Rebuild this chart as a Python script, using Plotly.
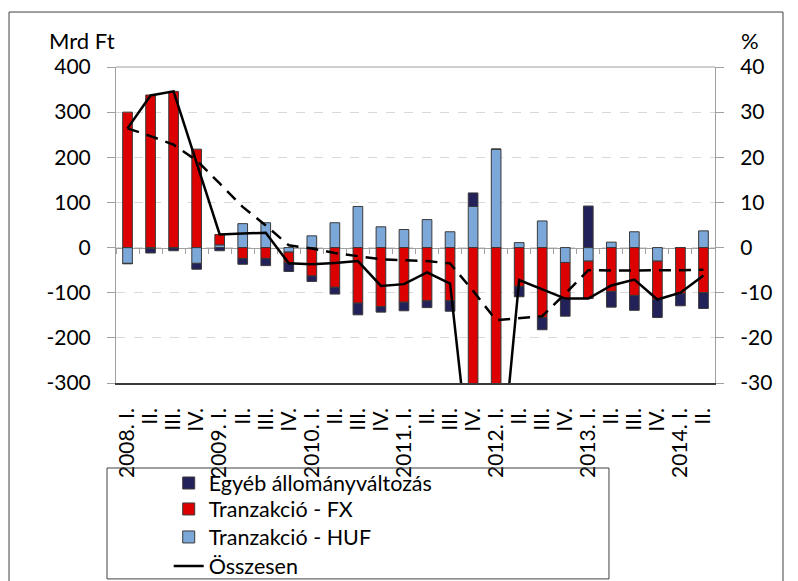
import plotly.graph_objects as go

# negyedévek 2008 I. - 2014 II.
negyedev = ["2008Q1", "2008Q2", "2008Q3", "2008Q4", "2009Q1", "2009Q2", "2009Q3",
            "2009Q4", "2010Q1", "2010Q2", "2010Q3", "2010Q4", "2011Q1", "2011Q2",
            "2011Q3", "2011Q4", "2012Q1", "2012Q2", "2012Q3", "2012Q4", "2013Q1",
            "2013Q2", "2013Q3", "2013Q4", "2014Q1", "2014Q2"]
negyedev_cimke = ["2008. I.", "II.", "III.", "IV.", "2009. I.", "II.", "III.", "IV.",
                  "2010. I.", "II.", "III.", "IV.", "2011. I.", "II.", "III.", "IV.",
                  "2012. I.", "II.", "III.", "IV.", "2013. I.", "II.", "III.", "IV.",
                  "2014. I.", "II."]

# Mrd Ft
tranz_huf = [-35, -2, -1, -35, 6, 53, 55, -10, 26, 55, 91, 46, 40, 62, 35, 91,
             218, 11, 59, -33, -30, 12, 35, -30, 0, 37]
tranz_fx = [300, 338, 346, 218, 23, -24, -24, -24, -63, -88, -123, -131, -121, -118,
            -118, -640, -830, -86, -155, -80, -83, -97, -106, -85, -102, -100]
egyeb = [-1, -10, -6, -13, -7, -13, -16, -19, -12, -15, -26, -12, -19, -15, -23, 30,
         0, -23, -27, -39, 92, -35, -33, -40, -27, -35]
osszesen = [264, 337, 346, 190, 29, 31, 33, -35, -37, -34, -30, -85, -81, -55, -80,
            -540, -610, -72, -93, -113, -113, -84, -71, -115, -100, -62]

# % (jobb tengely)
osszesen_pct = [26.4, 24.7, 22.8, 19.3, 14.2, 9.0, 4.9, 0.5, -0.2, -1.2, -1.9, -2.6,
                -2.8, -3.0, -3.5, -9.6, -16.1, -15.7, -15.2, -10.2, -5.0, -5.1, -5.1,
                -5.1, -5.0, -4.9]

bal_ticks = [-300, -200, -100, 0, 100, 200, 300, 400]
jobb_ticks = [-30, -20, -10, 0, 10, 20, 30, 40]

szegely = "#3a3a3a"
szurke = "#a0a0a0"

fig = go.Figure()
fig.add_trace(go.Bar(x=negyedev, y=tranz_huf, name="Tranzakció - HUF", legend="legend3",
                     marker=dict(color="#7BA7D9", line=dict(color=szegely, width=1))))
fig.add_trace(go.Bar(x=negyedev, y=tranz_fx, name="Tranzakció - FX", legend="legend2",
                     marker=dict(color="#DD0000", line=dict(color=szegely, width=1))))
fig.add_trace(go.Bar(x=negyedev, y=egyeb, name="Egyéb állományváltozás", legend="legend",
                     marker=dict(color="#232159", line=dict(color=szegely, width=1))))
fig.add_trace(go.Scatter(x=negyedev, y=osszesen, mode="lines", name="Összesen",
                         legend="legend4", line=dict(color="black", width=2.5)))
fig.add_trace(go.Scatter(x=negyedev, y=osszesen_pct, mode="lines", xaxis="x2", yaxis="y2",
                         showlegend=False,
                         line=dict(color="black", width=2.5, dash="12px,8px")))

# egy-egy jelmagyarázat sor, hogy a sorköz olyan legyen, mint az eredetin
def jelmagyarazat(y):
    return dict(x=0.088, y=y, xanchor="left", yanchor="middle",
                bgcolor="rgba(0,0,0,0)", font=dict(size=21.5))

fig.update_layout(
    width=798, height=581,
    margin=dict(l=108, r=91, t=59, b=206, autoexpand=False),
    paper_bgcolor="white", plot_bgcolor="white",
    font=dict(family="Lato", size=21, color="black"),
    barmode="relative", bargap=0.58,
    xaxis=dict(type="category", tickmode="array", tickvals=negyedev,
               ticktext=negyedev_cimke, tickangle=-90, showline=True,
               linecolor=szegely, linewidth=1.5, ticks="", showgrid=False,
               ticklabelstandoff=15, automargin=False),
    xaxis2=dict(overlaying="x", matches="x", anchor="free", position=300 / 700,
                showline=True, linecolor=szurke, linewidth=1, ticks="outside",
                ticklen=5, tickcolor=szurke, tickson="boundaries",
                showticklabels=False, showgrid=False, layer="below traces"),
    yaxis=dict(range=[-300, 400], tickvals=bal_ticks,
               ticktext=[str(v) for v in bal_ticks], showline=True, linecolor=szurke,
               ticks="outside", ticklen=8, tickcolor=szurke, showgrid=True,
               gridcolor="#d9d9d9", griddash="dash", zeroline=False,
               ticklabelstandoff=12, automargin=False),
    yaxis2=dict(overlaying="y", side="right", anchor="x", range=[-30, 40],
                tickvals=jobb_ticks, ticktext=[str(v) for v in jobb_ticks],
                showline=True, linecolor=szurke, ticks="outside",
                ticklen=8, tickcolor=szurke, showgrid=False, zeroline=False,
                ticklabelstandoff=12, automargin=False),
    legend=jelmagyarazat(-0.3165),
    legend2=jelmagyarazat(-0.3987),
    legend3=jelmagyarazat(-0.4873),
    legend4=jelmagyarazat(-0.5791),
    annotations=[
        dict(text="Mrd Ft", x=-0.0568, y=1.085, xref="paper", yref="paper",
             showarrow=False, xanchor="center", yanchor="middle", font=dict(size=22)),
        dict(text="%", x=1.0584, y=1.085, xref="paper", yref="paper",
             showarrow=False, xanchor="center", yanchor="middle", font=dict(size=22)),
    ],
    shapes=[
        dict(type="line", xref="paper", yref="paper", x0=0, x1=1, y0=1, y1=1,
             line=dict(color=szurke, width=1)),
        dict(type="rect", xref="paper", yref="paper", x0=-0.015, x1=0.823,
             y0=-0.62, y1=-0.269, line=dict(color="#404040", width=1)),
        dict(type="rect", xref="paper", yref="paper", x0=-0.1786, x1=1.1135,
             y0=-0.75, y1=1.174, line=dict(color="#404040", width=1)),
    ],
)

fig.write_html("out.html")
